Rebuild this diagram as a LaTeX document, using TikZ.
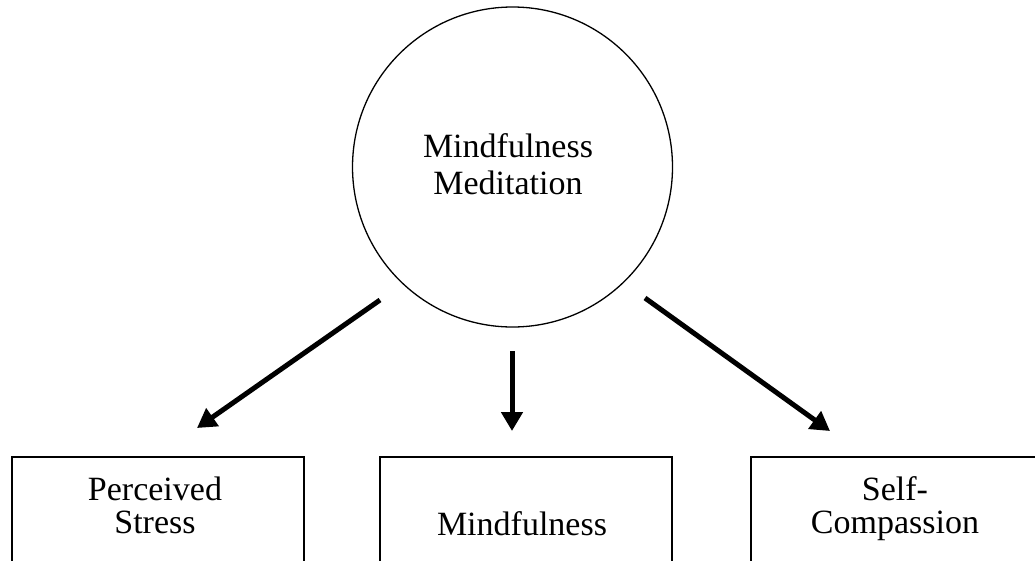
\documentclass[tikz,border=0pt]{standalone}
\usepackage{fontspec}
\setmainfont{Liberation Serif}
\usetikzlibrary{arrows.meta}
\begin{document}
\begin{tikzpicture}[x=1pt,y=-1pt,
  lbl/.style={font=\fontsize{34}{36.7}\selectfont, align=center, inner sep=0pt, anchor=base},
  boxlbl/.style={font=\fontsize{34}{33}\selectfont, align=center, inner sep=0pt, anchor=base},
  varbox/.style={draw, line width=2pt, rectangle, minimum width=292pt, minimum height=200pt, anchor=north west, inner sep=0pt},
  arr/.style={line width=5pt, -{Triangle[length=19pt,width=21pt]}}
]
\useasboundingbox (0,0) rectangle (1035,560);
\clip (0,0) rectangle (1035,560);
\fill[white] (0,0) rectangle (1035,560);
% circle
\node[draw, circle, line width=1.3pt, minimum size=320pt, inner sep=0pt] (mm) at (512.5,167) {};
\node[lbl] (mmtext) at (508,194) {Mindfulness\\Meditation};
% boxes
\node[varbox] (ps) at (11,456) {};
\node[varbox] (mf) at (379,456) {};
\node[varbox] (sc) at (750,456) {};
\node[boxlbl] (pstext) at (155,533) {Perceived\\Stress};
\node[boxlbl] (mftext) at (522,535) {Mindfulness};
\node[boxlbl] (sctext) at (895,533) {Self-\\Compassion};
% arrow endpoints
\coordinate (a1s) at (380,300);
\coordinate (a1e) at (197,428);
\coordinate (a2s) at (512,351);
\coordinate (a2e) at (512,431);
\coordinate (a3s) at (645,298);
\coordinate (a3e) at (830,431);
\draw[arr] (a1s) -- (a1e);
\draw[arr] (a2s) -- (a2e);
\draw[arr] (a3s) -- (a3e);
\end{tikzpicture}
\end{document}
